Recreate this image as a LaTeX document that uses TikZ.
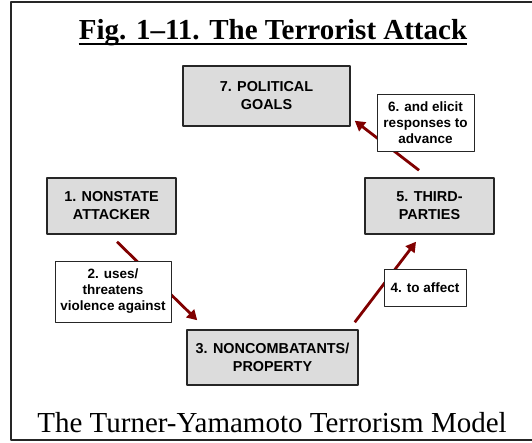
\documentclass[tikz,border=0pt]{standalone}
\usepackage{fontspec}
\setmainfont{Liberation Serif}
\newfontfamily\boxfont{Liberation Sans}
\usetikzlibrary{arrows.meta}
\definecolor{boxgray}{HTML}{DCDCDC}
\definecolor{arrowred}{HTML}{800000}
\begin{document}
\begin{tikzpicture}[x=1pt, y=-1pt, line join=round,
  stage/.style={draw=black!85, line width=1.5pt, fill=boxgray, align=center, inner sep=0pt,
    font=\boxfont\bfseries\fontsize{14.4}{18}\selectfont},
  verb/.style={draw=black!85, line width=1pt, fill=white, align=center, inner sep=0pt,
    font=\boxfont\bfseries\fontsize{13.5}{16}\selectfont},
  link/.style={draw=arrowred, line width=2.8pt, -{Triangle[length=10pt,width=11pt]}}]
\useasboundingbox (0,0) rectangle (532,442);
\clip (0,0) rectangle (532,442);
\draw[line width=1.2pt, black!85] (11,2) rectangle (545,440);
\node[anchor=base, inner sep=0pt, font=\bfseries\fontsize{29}{32}\selectfont] (title) at (273,39) {Fig. 1--11. The Terrorist Attack};
\draw[line width=2pt] ([yshift=-5pt]title.base west) -- ([yshift=-5pt]title.base east);
\node[anchor=base, font=\fontsize{29}{32}\selectfont] (model) at (272,432) {The Turner-Yamamoto Terrorism Model};
% stages
\node[stage, minimum width=167, minimum height=60] (goals) at (266.5,96) {7. POLITICAL\\GOALS};
\node[stage, minimum width=129, minimum height=56] (attacker) at (111.5,206) {1. NONSTATE\\ATTACKER};
\node[stage, minimum width=129, minimum height=56] (third) at (429.5,206) {5. THIRD-\\PARTIES};
\node[stage, minimum width=171, minimum height=55] (victims) at (272.5,357.5) {3. NONCOMBATANTS/\\PROPERTY};
% connectors
\draw[link] ([shift={(5.5,7)}]attacker.south) -- ([shift={(11,-9)}]victims.north west);
\draw[link] ([shift={(-4,-7)}]victims.north east) -- ([shift={(-13.5,7)}]third.south);
\draw[link] ([shift={(-10.5,-7)}]third.north) -- ([shift={(4,-6)}]goals.south east);
% verbs on top of the connectors
\node[verb, minimum width=116, minimum height=61] (uses) at (113,291.5) {2. uses/\\threatens\\violence against};
\node[verb, minimum width=82, minimum height=37] (affect) at (425,287.5) {4. to affect};
\node[verb, minimum width=97, minimum height=57] (elicit) at (425.5,122.5) {6. and elicit\\responses to\\advance};
\end{tikzpicture}
\end{document}
